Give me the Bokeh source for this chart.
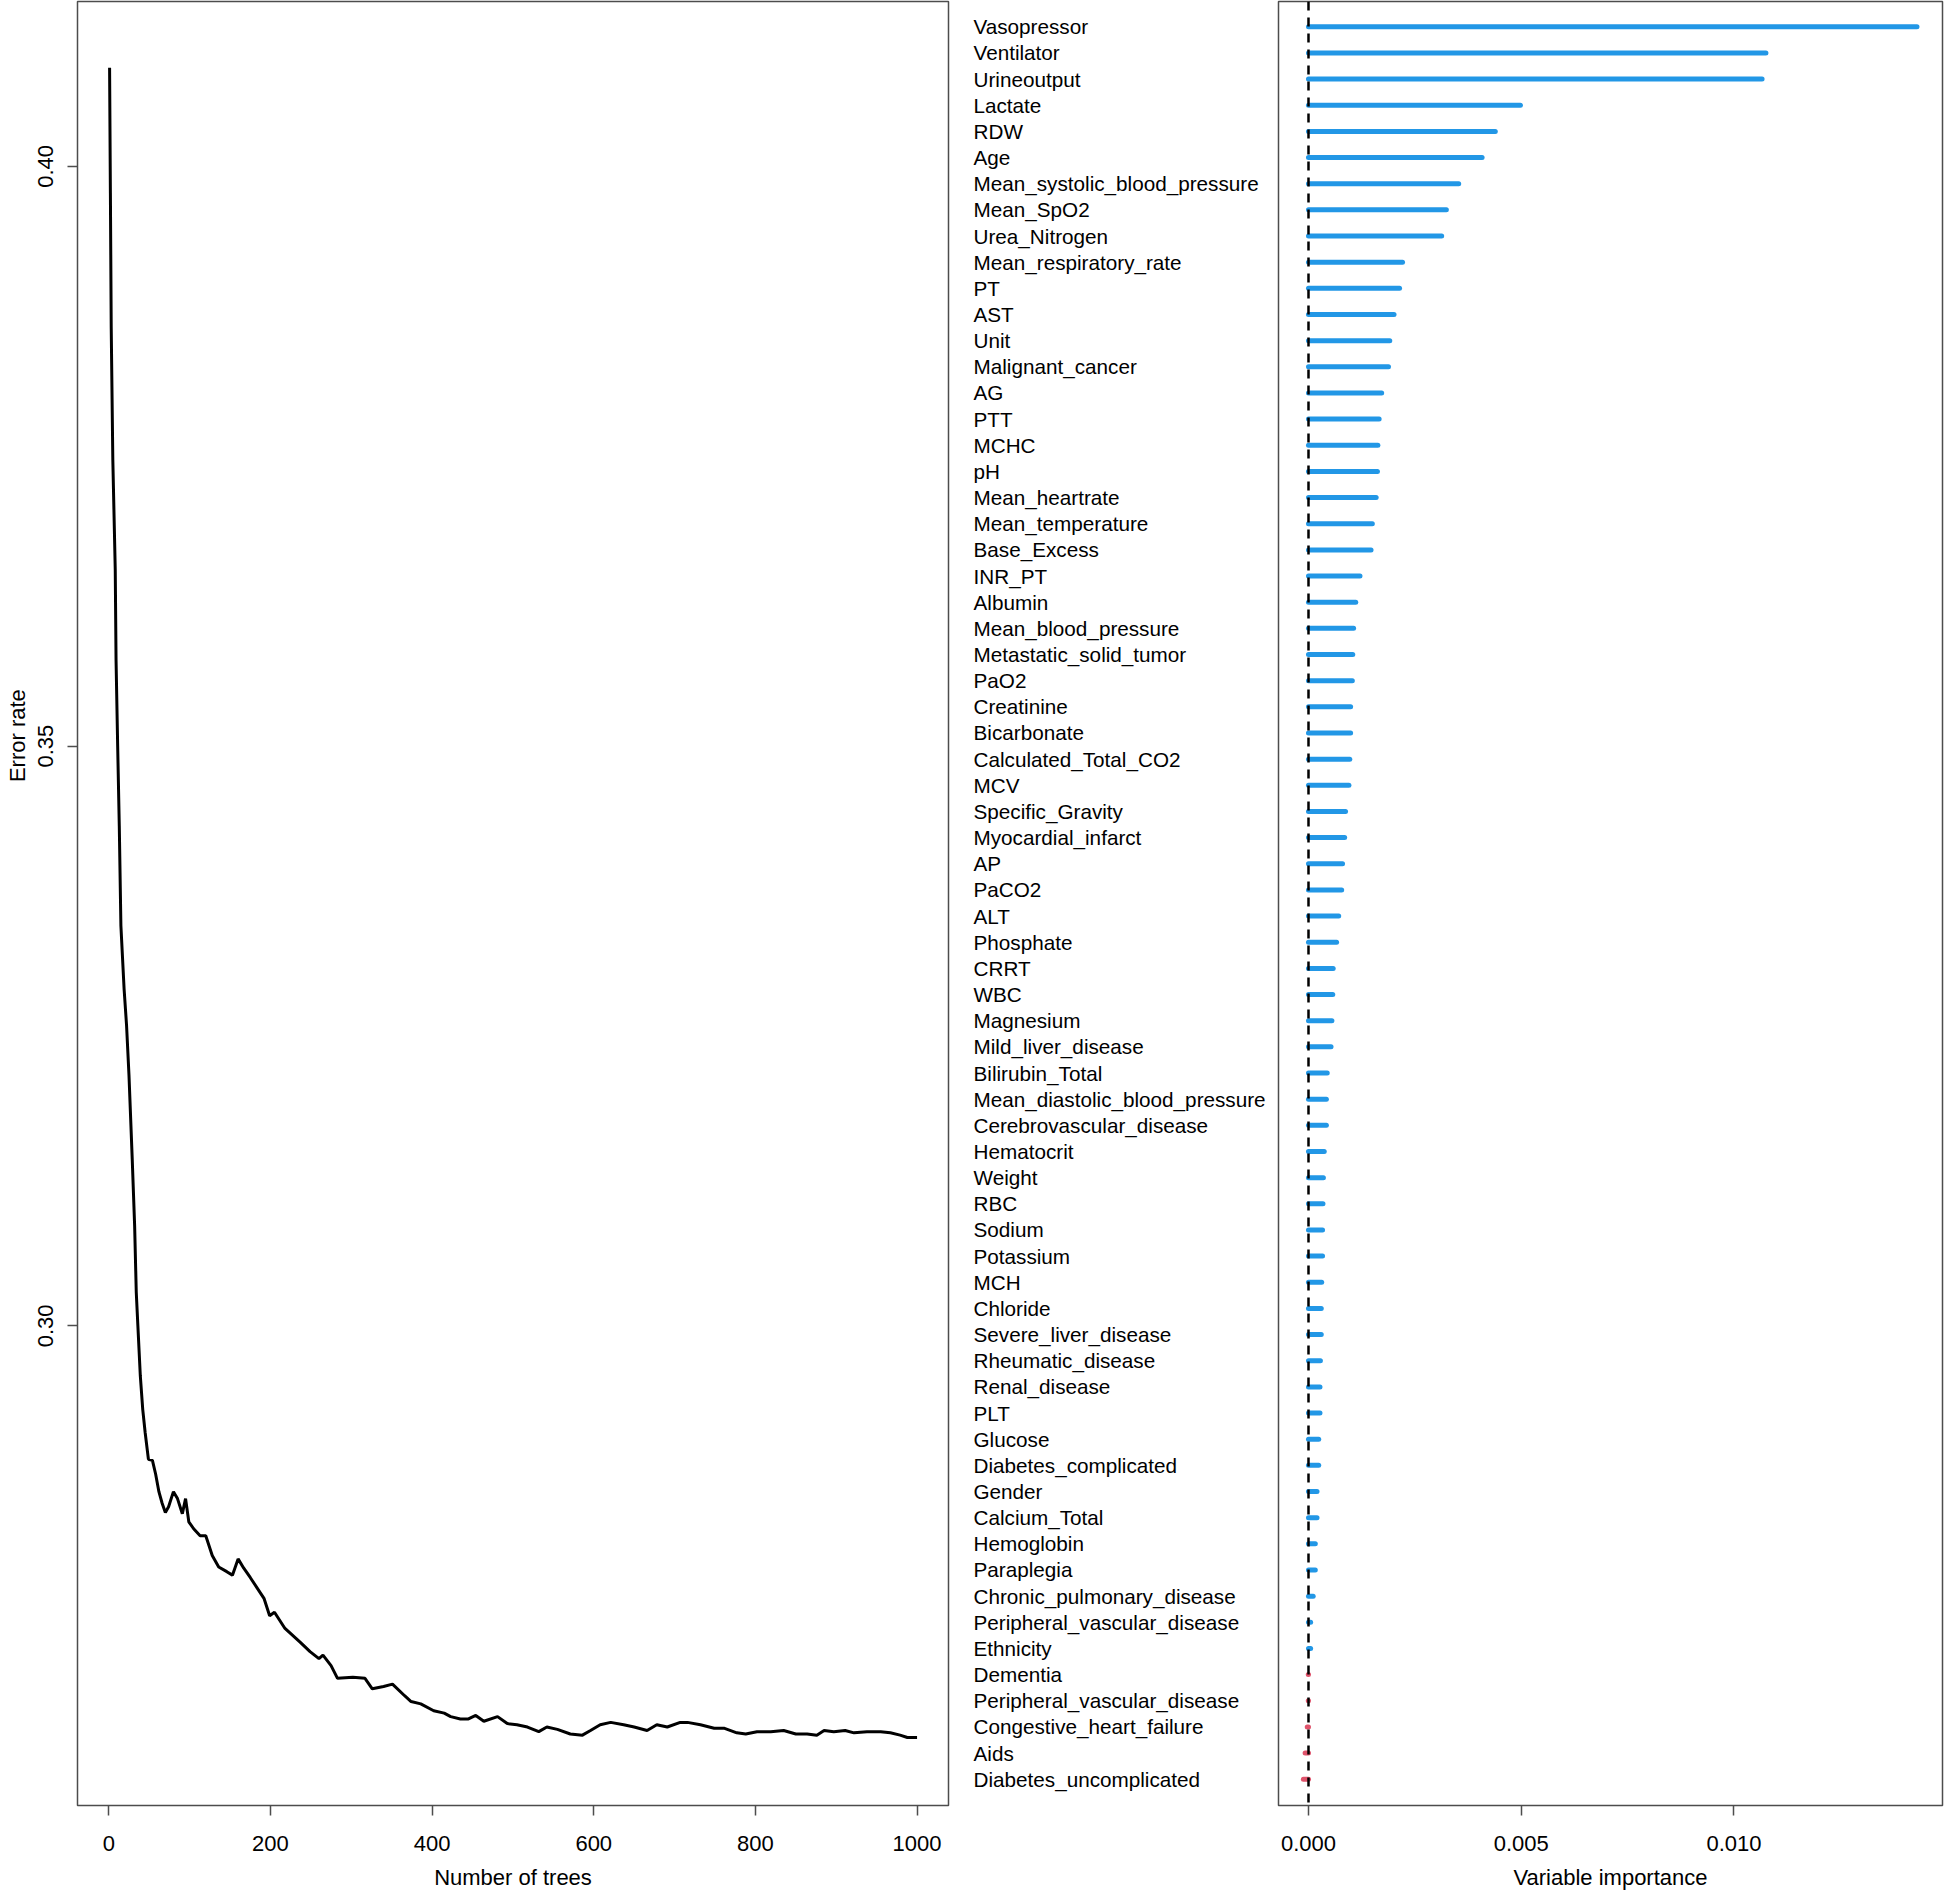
import math
from bokeh.plotting import figure
from bokeh.models import (Range1d, FixedTicker, PrintfTickFormatter, Span, ColumnDataSource,
                          LinearAxis, CustomJSTickFormatter)
from bokeh.layouts import row
from bokeh.embed import file_html
from bokeh.resources import INLINE
from bokeh.core.properties import value

# ---------------- data ----------------
trees = [1, 2, 3, 5, 8, 9, 11, 13, 15, 19, 22, 25, 29, 32, 34, 36, 39, 42, 45, 49,
         54, 58, 62, 66, 70, 74, 80, 85, 91, 95, 99, 105, 113, 120, 128, 136, 146, 153,
         160, 167, 175, 192, 199, 205, 218, 237, 249, 260, 265, 275, 283, 302, 317, 326,
         340, 351, 366, 374, 386, 402, 415, 423, 435, 445, 454, 464, 481, 493, 505, 518,
         532, 542, 555, 571, 586, 596, 608, 621, 637, 650, 666, 678, 691, 707, 716, 732,
         749, 761, 777, 788, 802, 819, 835, 850, 864, 876, 885, 897, 911, 922, 938, 955,
         967, 979, 988, 1000]
error_rate = [0.4085, 0.3977, 0.3862, 0.3747, 0.3652, 0.3574, 0.3500, 0.3431, 0.3345, 0.3290,
              0.3259, 0.3216, 0.3144, 0.3086, 0.3029, 0.3000, 0.2957, 0.2928, 0.2908, 0.2885,
              0.2884, 0.2872, 0.2857, 0.2847, 0.2839, 0.2844, 0.2857, 0.2851, 0.2838, 0.2851,
              0.2831, 0.2825, 0.2819, 0.2819, 0.2802, 0.2792, 0.2788, 0.2785, 0.2799, 0.2791,
              0.2783, 0.2765, 0.2750, 0.2753, 0.2739, 0.2727, 0.2719, 0.2713, 0.2716, 0.2707,
              0.2696, 0.2697, 0.2696, 0.2687, 0.2689, 0.2691, 0.2681, 0.2676, 0.2674, 0.2668,
              0.2666, 0.2663, 0.2661, 0.2661, 0.2664, 0.2659, 0.2663, 0.2657, 0.2656, 0.2654,
              0.2650, 0.2654, 0.2652, 0.2648, 0.2647, 0.2651, 0.2656, 0.2658, 0.2656, 0.2654,
              0.2651, 0.2656, 0.2654, 0.2658, 0.2658, 0.2656, 0.2653, 0.2653, 0.2649, 0.2648,
              0.2650, 0.2650, 0.2651, 0.2648, 0.2648, 0.2647, 0.2651, 0.2650, 0.2651, 0.2649,
              0.2650, 0.2650, 0.2649, 0.2647, 0.2645, 0.2645]

x_ticks_trees = [0, 200, 400, 600, 800, 1000]
y_ticks_error = [0.30, 0.35, 0.40]

variables = ["Vasopressor", "Ventilator", "Urineoutput", "Lactate", "RDW", "Age",
             "Mean_systolic_blood_pressure", "Mean_SpO2", "Urea_Nitrogen",
             "Mean_respiratory_rate", "PT", "AST", "Unit", "Malignant_cancer", "AG", "PTT",
             "MCHC", "pH", "Mean_heartrate", "Mean_temperature", "Base_Excess", "INR_PT",
             "Albumin", "Mean_blood_pressure", "Metastatic_solid_tumor", "PaO2", "Creatinine",
             "Bicarbonate", "Calculated_Total_CO2", "MCV", "Specific_Gravity",
             "Myocardial_infarct", "AP", "PaCO2", "ALT", "Phosphate", "CRRT", "WBC",
             "Magnesium", "Mild_liver_disease", "Bilirubin_Total",
             "Mean_diastolic_blood_pressure", "Cerebrovascular_disease", "Hematocrit",
             "Weight", "RBC", "Sodium", "Potassium", "MCH", "Chloride", "Severe_liver_disease",
             "Rheumatic_disease", "Renal_disease", "PLT", "Glucose", "Diabetes_complicated",
             "Gender", "Calcium_Total", "Hemoglobin", "Paraplegia", "Chronic_pulmonary_disease",
             "Peripheral_vascular_disease", "Ethnicity", "Dementia",
             "Peripheral_vascular_disease", "Congestive_heart_failure", "Aids",
             "Diabetes_uncomplicated"]
importance = [0.01430, 0.01075, 0.01066, 0.00498, 0.00439, 0.00408, 0.00353, 0.00324,
              0.00313, 0.00221, 0.00214, 0.00201, 0.00191, 0.00188, 0.00172, 0.00166,
              0.00163, 0.00162, 0.00159, 0.00150, 0.00147, 0.00121, 0.00111, 0.00106,
              0.00104, 0.00103, 0.00099, 0.00099, 0.00097, 0.00095, 0.00087, 0.00085,
              0.00080, 0.00078, 0.00071, 0.00066, 0.00058, 0.00057, 0.00055, 0.00053,
              0.00044, 0.00042, 0.00042, 0.00037, 0.00035, 0.00034, 0.00033, 0.00033,
              0.00031, 0.00030, 0.00030, 0.00028, 0.00027, 0.00027, 0.00024, 0.00024,
              0.00020, 0.00020, 0.00016, 0.00016, 0.00011, 0.00005, 0.00005, -0.000005,
              -0.000005, -0.00003, -0.00008, -0.00012]
x_ticks_imp = [0.0, 0.005, 0.010]

# ---------------- styling ----------------
FONT = "Liberation Sans"
BOX = "#4d4d4d"
BLUE = "#2297E6"
RED = "#DF536B"
H = 1892
TOP = 1
BOTTOM = 85
ERROR_LABEL_Y = 0.3509   # where the off-centre "Error rate" title sits on the y scale


def style_axis(ax):
    ax.axis_line_color = None
    ax.major_tick_out = 10
    ax.major_tick_in = 0
    ax.major_tick_line_color = BOX
    ax.major_tick_line_width = 1.5
    ax.minor_tick_line_color = None
    ax.major_label_text_font = FONT
    ax.major_label_text_font_size = "22px"
    ax.major_label_text_color = "black"
    ax.axis_label_text_font = FONT
    ax.axis_label_text_font_size = "22px"
    ax.axis_label_text_font_style = "normal"
    ax.axis_label_text_color = "black"


# ---------------- left: error rate ----------------
fL = figure(width=960, height=H, output_backend="svg", toolbar_location=None,
            x_range=Range1d(-38.7, 1038.9), y_range=Range1d(0.258633, 0.414214),
            min_border_left=77, min_border_right=12, min_border_top=TOP,
            min_border_bottom=BOTTOM)
fL.line(trees, error_rate, line_color="black", line_width=3)
fL.grid.visible = False
fL.outline_line_color = BOX
fL.outline_line_width = 1.5
fL.xaxis.ticker = FixedTicker(ticks=x_ticks_trees)
fL.yaxis.ticker = FixedTicker(ticks=y_ticks_error)
fL.yaxis.formatter = PrintfTickFormatter(format="%.2f")
fL.yaxis.major_label_orientation = "vertical"
style_axis(fL.xaxis[0])
style_axis(fL.yaxis[0])
fL.xaxis.major_label_standoff = 20
fL.yaxis.major_label_standoff = 14
fL.xaxis.axis_label = "Number of trees"
fL.xaxis.axis_label_standoff = 11

# off-centre y title, drawn as the single label of an extra left axis
title_axis = LinearAxis(ticker=FixedTicker(ticks=[ERROR_LABEL_Y]),
                        formatter=CustomJSTickFormatter(code="return 'Error rate'"))
title_axis.axis_line_color = None
title_axis.major_tick_out = 0
title_axis.major_tick_in = 0
title_axis.major_tick_line_color = None
title_axis.minor_tick_line_color = None
title_axis.major_label_orientation = "vertical"
title_axis.major_label_standoff = 5
title_axis.major_label_text_font = FONT
title_axis.major_label_text_font_size = "22px"
title_axis.major_label_text_color = "black"
fL.add_layout(title_axis, "left")

# ---------------- right: variable importance ----------------
n = len(variables)
pos = [n - i for i in range(n)]
colors = [BLUE if v >= 0 else RED for v in importance]
src = ColumnDataSource(dict(pos=pos, imp=importance, zero=[0.0] * n, color=colors,
                            label=variables))

yR = Range1d(-0.0044, 68.9662)

fM = figure(width=317, height=H, output_backend="svg", toolbar_location=None,
            x_range=Range1d(0, 317), y_range=yR, x_axis_location=None,
            y_axis_location=None, min_border_left=0, min_border_right=0,
            min_border_top=TOP, min_border_bottom=BOTTOM)
fM.grid.visible = False
fM.outline_line_color = None
fM.text(x=13, y="pos", text="label", source=src, text_font=value(FONT),
        text_font_size="20.7px", text_align="left", text_baseline="middle",
        text_color="black")

fR = figure(width=667, height=H, output_backend="svg", toolbar_location=None,
            x_range=Range1d(-0.000705, 0.0149001), y_range=yR, y_axis_location=None,
            min_border_left=1, min_border_right=2, min_border_top=TOP,
            min_border_bottom=BOTTOM)
fR.grid.visible = False
fR.outline_line_color = BOX
fR.outline_line_width = 1.5
fR.add_layout(Span(location=0, dimension="height", line_color="black",
                   line_dash="9 7", line_width=2.5))
fR.segment(x0="zero", y0="pos", x1="imp", y1="pos", source=src, line_color="color",
           line_width=5, line_cap="round")
fR.xaxis.ticker = FixedTicker(ticks=x_ticks_imp)
fR.xaxis.formatter = PrintfTickFormatter(format="%.3f")
style_axis(fR.xaxis[0])
fR.xaxis.major_label_standoff = 20
fR.xaxis.axis_label = "Variable importance"
fR.xaxis.axis_label_standoff = 11

layout = row(fL, fM, fR)
open("out.html", "w").write(file_html(layout, INLINE))
